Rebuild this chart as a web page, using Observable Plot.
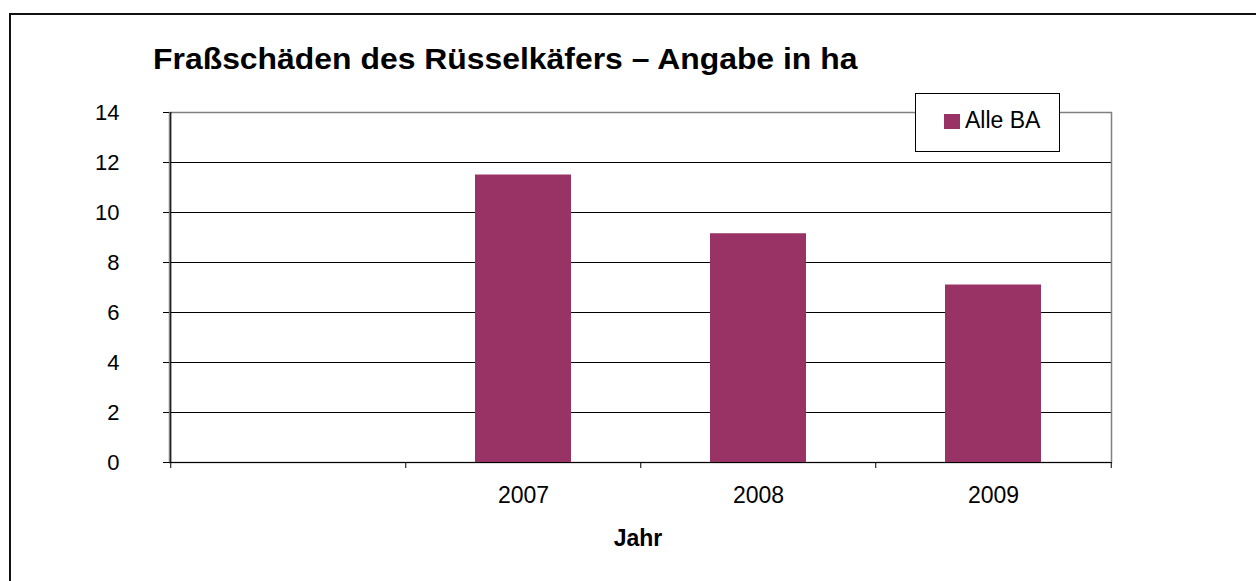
<!DOCTYPE html>
<html>
<head>
<meta charset="utf-8">
<script src="https://cdn.jsdelivr.net/npm/d3@7"></script>
<script src="https://cdn.jsdelivr.net/npm/@observablehq/plot@0.6"></script>
<style>
  html { overflow: hidden; }
  html, body { margin: 0; padding: 0; background: #fff; }
  body { font-family: "Liberation Sans", Arial, sans-serif; color: #000; }
  #wrap { position: relative; width: 1256px; height: 581px; overflow: hidden; }
  #hline { position: absolute; left: 9px; top: 13px; width: 1300px; height: 2px; background: #111; }
  #vline { position: absolute; left: 9px; top: 13px; width: 2px; height: 600px; background: #111; }
  #chart { position: absolute; left: 0; top: 0; }
  #chart svg { display: block; }
  #title { position: absolute; left: 153px; top: 45px; font-size: 29px; line-height: 29px; font-weight: bold; white-space: nowrap; transform: scaleX(1.1); transform-origin: left center; }
  #xlabel { position: absolute; left: 538px; width: 200px; text-align: center; top: 527px; font-size: 23px; line-height: 23px; font-weight: bold; }
  #legend { position: absolute; left: 915px; top: 93px; width: 143px; height: 57px; border: 1px solid #000; background: #fff; }
  .sw { position: absolute; left: 28px; top: 20px; width: 16px; height: 15px; }
  .lt { position: absolute; left: 49px; top: 15px; font-size: 23px; line-height: 23px; white-space: nowrap; }
</style>
</head>
<body>
<div id="wrap">
<div id="chart"></div>
<div id="hline"></div>
<div id="vline"></div>
<div id="title"></div>
<div id="xlabel"></div>
<div id="legend"></div>
</div>
<script>
// ---- data ----
const titleText = "Fraßschäden des Rüsselkäfers – Angabe in ha";
const xAxisTitle = "Jahr";
const seriesName = "Alle BA";
const years = ["", "2007", "2008", "2009"];
const values = [null, 11.5, 9.15, 7.1];
const yTicks = [0, 2, 4, 6, 8, 10, 12, 14];
const barColor = "#993366";

const data = years.map((year, i) => ({year, value: values[i]})).filter(d => d.value != null);

const W = 1256, H = 581;
const mL = 169, mR = 145, mT = 112, mB = 119;
const step = (W - mL - mR) / years.length;

const chart = Plot.plot({
  width: W,
  height: H,
  marginLeft: mL,
  marginRight: mR,
  marginTop: mT,
  marginBottom: mB,
  style: {fontFamily: "'Liberation Sans', Arial, sans-serif", color: "#000", background: "transparent"},
  x: {type: "band", domain: years, paddingInner: 0.592, paddingOuter: 0.296},
  y: {domain: [0, 14]},
  marks: [
    Plot.ruleY(yTicks.filter(v => v > 0 && v < 14), {stroke: "#000", strokeWidth: 1}),
    Plot.frame({stroke: "#808080", strokeWidth: 1.5}),
    Plot.barY(data, {x: "year", y: "value", fill: barColor}),
    Plot.ruleY([0], {stroke: "#000", strokeWidth: 1.2}),
    Plot.ruleX([years[0]], {x: d => d, dx: -step / 2, stroke: "#000", strokeWidth: 1.2}),
    Plot.ruleX(years, {x: d => d, y1: 0, y2: 0, dx: -step / 2, insetBottom: -6, stroke: "#000"}),
    Plot.ruleX([years[years.length - 1]], {x: d => d, y1: 0, y2: 0, dx: step / 2, insetBottom: -6, stroke: "#000"}),
    Plot.axisY({ticks: yTicks, tickSize: 6, tickPadding: 44, fontSize: 22, tickFormat: d => String(d), label: null, stroke: "#000"}),
    Plot.axisX({tickSize: 0, tickPadding: 24, fontSize: 23, label: null})
  ]
});
document.getElementById("chart").appendChild(chart);

document.getElementById("title").textContent = titleText;
document.getElementById("xlabel").textContent = xAxisTitle;
const lg = document.getElementById("legend");
const sw = document.createElement("div");
sw.className = "sw";
sw.style.background = barColor;
const lt = document.createElement("div");
lt.className = "lt";
lt.textContent = seriesName;
lg.appendChild(sw);
lg.appendChild(lt);
</script>
</body>
</html>
